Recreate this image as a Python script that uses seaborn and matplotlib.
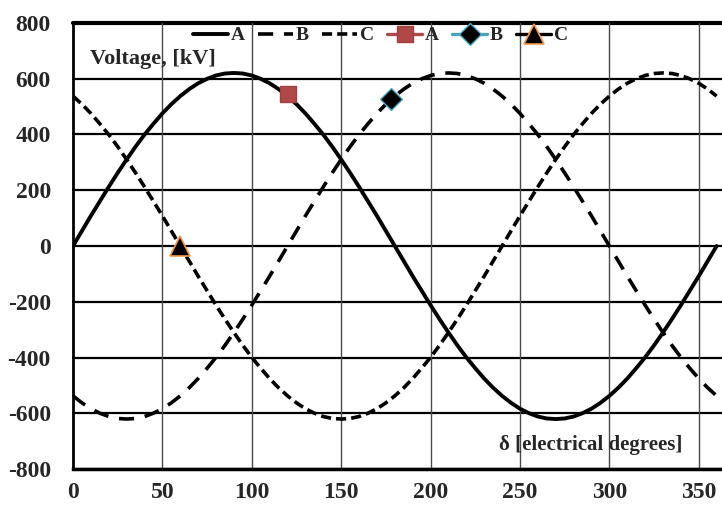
import matplotlib
matplotlib.use("Agg")
import matplotlib.pyplot as plt
import seaborn as sns
import pandas as pd

# electrical angle (degrees), 5-degree steps
delta = list(range(0, 365, 5))

# voltages [kV]
volt_A = [0, 54, 108, 160, 212, 262, 310, 356, 399, 438, 475, 508, 537, 562, 583, 599, 611, 618, 620,
          618, 611, 599, 583, 562, 537, 508, 475, 438, 399, 356, 310, 262, 212, 160, 108, 54, 0,
          -54, -108, -160, -212, -262, -310, -356, -399, -438, -475, -508, -537, -562, -583, -599, -611, -618, -620,
          -618, -611, -599, -583, -562, -537, -508, -475, -438, -399, -356, -310, -262, -212, -160, -108, -54, 0]
volt_B = [-537, -562, -583, -599, -611, -618, -620, -618, -611, -599, -583, -562, -537, -508, -475, -438,
          -399, -356, -310, -262, -212, -160, -108, -54,
          0, 54, 108, 160, 212, 262, 310, 356, 399, 438, 475, 508, 537, 562, 583, 599, 611, 618, 620,
          618, 611, 599, 583, 562, 537, 508, 475, 438, 399, 356, 310, 262, 212, 160, 108, 54, 0,
          -54, -108, -160, -212, -262, -310, -356, -399, -438, -475, -508, -537]
volt_C = [537, 508, 475, 438, 399, 356, 310, 262, 212, 160, 108, 54, 0,
          -54, -108, -160, -212, -262, -310, -356, -399, -438, -475, -508, -537, -562, -583, -599, -611, -618, -620,
          -618, -611, -599, -583, -562, -537, -508, -475, -438, -399, -356, -310, -262, -212, -160, -108, -54,
          0, 54, 108, 160, 212, 262, 310, 356, 399, 438, 475, 508, 537, 562, 583, 599, 611, 618, 620,
          618, 611, 599, 583, 562, 537]

# highlighted points
pt_A = ([120], [545])
pt_B = ([178], [528])
pt_C = ([60], [0])

x_ticks = [0, 50, 100, 150, 200, 250, 300, 350]
y_ticks = [-800, -600, -400, -200, 0, 200, 400, 600, 800]

df = pd.DataFrame({"delta": delta, "A": volt_A, "B": volt_B, "C": volt_C})

sns.set_style("white")
plt.rcParams["font.family"] = ["Liberation Serif", "DejaVu Serif"]
plt.rcParams["font.weight"] = "bold"
plt.rcParams["axes.unicode_minus"] = False

fig = plt.figure(figsize=(7.22, 5.07), dpi=100)
ax = fig.add_axes([0.1011, 0.0744, 0.8989, 0.8808])

# grid
for yv in y_ticks:
    ax.axhline(yv, color="black", lw=3.0 if yv == 800 else 1.6, zorder=1, clip_on=False)
for xv in x_ticks[1:]:
    ax.axvline(xv, color="#4a4a4a", lw=1.0, zorder=1)

sns.lineplot(data=df, x="delta", y="A", ax=ax, color="black", lw=2.8, label="A", zorder=3)
sns.lineplot(data=df, x="delta", y="B", ax=ax, color="black", lw=2.6, label="B",
             dashes=False, linestyle=(0, (4.2, 3.0)), zorder=3)
sns.lineplot(data=df, x="delta", y="C", ax=ax, color="black", lw=2.6, label="C",
             dashes=False, linestyle=(0, (2.8, 1.4)), zorder=3)

sns.lineplot(x=pt_A[0], y=pt_A[1], ax=ax, color="#B04848", lw=2.4, marker="s", markersize=11,
             markerfacecolor="#B04848", markeredgecolor="#A04040", markeredgewidth=1, label="A", zorder=4)
sns.lineplot(x=pt_B[0], y=pt_B[1], ax=ax, color="#4BA3B8", lw=2.4, marker="D", markersize=11,
             markerfacecolor="black", markeredgecolor="#4BACC6", markeredgewidth=1, label="B", zorder=4)
sns.lineplot(x=pt_C[0], y=pt_C[1], ax=ax, color="black", lw=2.4, marker="^", markersize=15,
             markerfacecolor="black", markeredgecolor="#F79646", markeredgewidth=1.2, label="C", zorder=4)

ax.set_xlim(0, 363)
ax.set_ylim(-800, 800)
ax.set_xticks(x_ticks)
ax.set_yticks(y_ticks)
ax.set_xlabel("")
ax.set_ylabel("")
ax.tick_params(axis="y", length=5, width=1.6, color="black", labelsize=17, pad=11)
ax.tick_params(axis="x", length=0, labelsize=17, pad=9)
for lab in ax.get_xticklabels() + ax.get_yticklabels():
    lab.set_fontweight("bold")

for s in ["top", "right"]:
    ax.spines[s].set_visible(False)
ax.spines["left"].set_color("black")
ax.spines["left"].set_linewidth(2.0)
ax.spines["bottom"].set_color("black")
ax.spines["bottom"].set_linewidth(2.5)

ax.text(9.5, 652, "Voltage, [kV]", fontsize=16, fontweight="bold", ha="left", va="baseline", zorder=5)
ax.text(238, -731, "δ [electrical degrees]", fontsize=15, fontweight="bold", ha="left", va="baseline", zorder=5)

leg = ax.legend(loc="upper left", bbox_to_anchor=(0.158, 1.03), ncol=6, frameon=False,
                handlelength=1.8, handletextpad=0.15, columnspacing=0.67,
                prop={"weight": "bold", "size": 14})

fig.savefig("out.png", dpi=100)
